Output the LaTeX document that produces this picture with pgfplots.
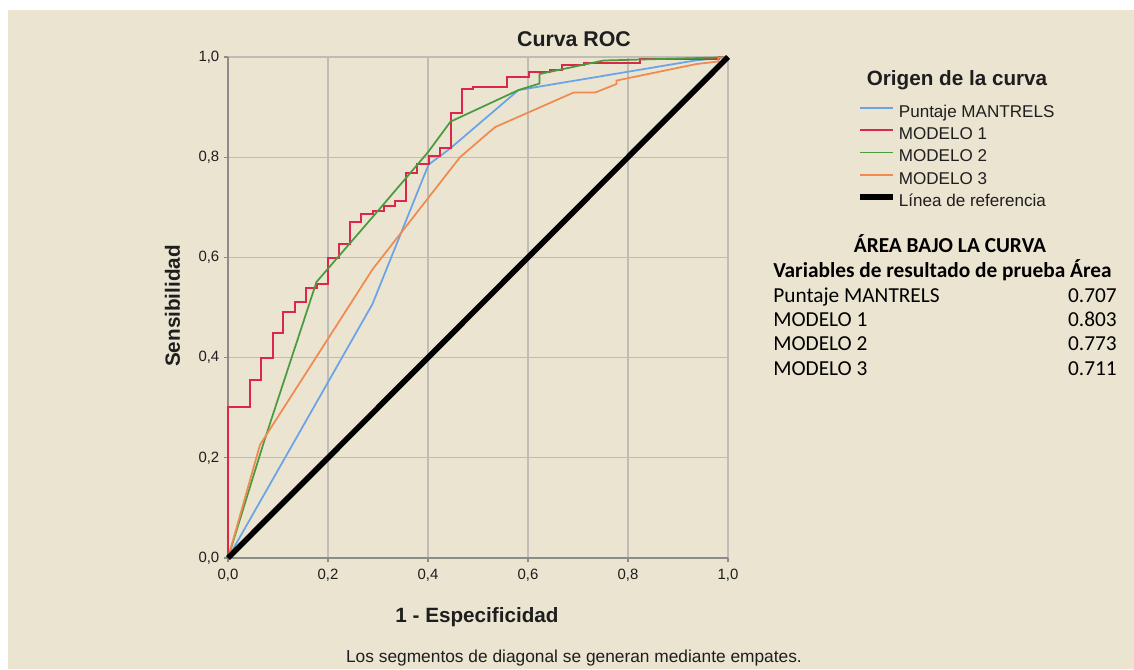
\documentclass[border=0pt]{standalone}
\usepackage{pgfplots}
\pgfplotsset{compat=1.18}
\usepackage{fontspec}
\setmainfont{Liberation Sans}
\newfontfamily\calibri{Carlito}

\definecolor{fondo}{RGB}{234,228,209}
\definecolor{rejilla}{RGB}{190,188,180}
\definecolor{eje}{RGB}{140,140,138}
\definecolor{texto}{RGB}{30,30,30}
\definecolor{azul}{RGB}{106,163,230}
\definecolor{rojo}{RGB}{220,40,72}
\definecolor{verde}{RGB}{74,154,62}
\definecolor{naranja}{RGB}{240,138,80}

\begin{document}
\begin{tikzpicture}[x=0.75pt,y=0.75pt]
\path[use as bounding box] (-228,-111) rectangle (906,558);
\fill[white] (-228,-111) rectangle (906,558);
\fill[fondo] (-220,-111) rectangle (906,548);

\begin{axis}[
  at={(0,0)}, anchor=south west,
  width=375pt, height=375.75pt, scale only axis,
  xmin=0, xmax=1, ymin=0, ymax=1,
  xtick={0,0.2,0.4,0.6,0.8,1}, ytick={0,0.2,0.4,0.6,0.8,1},
  axis x line*=bottom, axis y line*=left,
  axis line style={eje, line width=1pt},
  grid=major, grid style={rejilla, line width=1pt},
  tick align=outside, major tick length=3pt,
  tick style={eje, line width=0.8pt},
  /pgf/number format/.cd, fixed, fixed zerofill, precision=1, use comma,
  assume math mode=true, /pgfplots/.cd,
  tick label style={font=\fontsize{11.2}{13}\selectfont, text=texto},
  xticklabel style={yshift=-1.5pt},
  clip=false,
  legend style={at={(axis description cs:1.2587,0.9114)}, anchor=north west,
    draw=none, fill=none, inner sep=0pt, row sep=0pt,
    /tikz/every even column/.style={column sep=0pt},
    font=\fontsize{12.8}{15}\selectfont, text=texto,
    nodes={inner xsep=2pt, inner ysep=2.2pt, text height=9.5pt, text depth=2.8pt}},
  legend cell align=left,
  legend image code/.code={\draw[#1] (0pt,3.6pt) -- (24.75pt,3.6pt);},
]
% Puntaje MANTRELS
\addplot[azul, line width=1.3pt] coordinates {
  (0,0) (0.289,0.507) (0.401,0.785) (0.445,0.818) (0.581,0.934)
  (0.934,0.993) (1,1)};
\addlegendentry{Puntaje MANTRELS}
% MODELO 1
\addplot[rojo, line width=1.5pt] coordinates {
  (0,0) (0,0.302) (0.044,0.302) (0.044,0.355) (0.066,0.355) (0.066,0.399)
  (0.089,0.399) (0.089,0.450) (0.109,0.450) (0.109,0.491) (0.133,0.491)
  (0.133,0.510) (0.156,0.510) (0.156,0.538) (0.177,0.538) (0.177,0.547)
  (0.199,0.547) (0.199,0.599) (0.222,0.599) (0.222,0.626) (0.244,0.626)
  (0.244,0.671) (0.266,0.671) (0.266,0.687) (0.289,0.687) (0.289,0.693)
  (0.311,0.693) (0.311,0.703) (0.334,0.703) (0.334,0.713) (0.356,0.713)
  (0.356,0.768) (0.377,0.768) (0.377,0.786) (0.401,0.786) (0.401,0.803)
  (0.423,0.803) (0.423,0.818) (0.445,0.818) (0.445,0.889) (0.467,0.889)
  (0.467,0.937) (0.489,0.937) (0.489,0.941) (0.557,0.941) (0.557,0.960)
  (0.601,0.960) (0.601,0.970) (0.644,0.970) (0.644,0.975) (0.667,0.975)
  (0.667,0.985) (0.712,0.985) (0.712,0.988) (0.824,0.988) (0.824,0.996)
  (0.981,0.996) (0.981,1) (1,1)};
\addlegendentry{MODELO 1}
% MODELO 2
\addplot[verde, line width=1.3pt] coordinates {
  (0,0) (0.071,0.229) (0.177,0.551) (0.300,0.693) (0.400,0.810)
  (0.445,0.871) (0.581,0.934) (0.623,0.947) (0.623,0.966) (0.751,0.993)
  (0.980,0.999) (1,1)};
\addlegendentry{MODELO 2}
% MODELO 3
\addplot[naranja, line width=1.3pt] coordinates {
  (0,0) (0.064,0.226) (0.289,0.576) (0.464,0.800) (0.534,0.860)
  (0.691,0.929) (0.734,0.929) (0.777,0.946) (0.777,0.953) (0.937,0.986)
  (0.981,0.991) (0.981,0.999) (1,1)};
\addlegendentry{MODELO 3}
% Linea de referencia
\addplot[black, line width=4.2pt] coordinates {(0,0) (1,1)};
\addlegendentry{Línea de referencia}
\end{axis}

\node[anchor=base, inner sep=0pt, text=texto,
  font=\bfseries\fontsize{16}{19}\selectfont] at (346,511) {Curva ROC};
\node[anchor=base, inner sep=0pt, rotate=90, text=texto,
  font=\bfseries\fontsize{15.5}{18}\selectfont] at (-48,252) {Sensibilidad};
\node[anchor=base, inner sep=0pt, text=texto,
  font=\bfseries\fontsize{15.5}{18}\selectfont] at (249,-64) {1 - Especificidad};
\node[anchor=base, inner sep=0pt, text=texto,
  font=\fontsize{13}{15}\selectfont] at (346,-104)
  {Los segmentos de diagonal se generan mediante empates.};
\node[anchor=base, inner sep=0pt, text=texto,
  font=\bfseries\fontsize{15.5}{18}\selectfont] at (729,473) {Origen de la curva};

% Tabla de areas
\begin{scope}[every node/.style={inner sep=0pt, text=black,
    font=\calibri\fontsize{16}{18}\selectfont}]
\node[anchor=base, font=\calibri\bfseries\fontsize{16}{18}\selectfont]
  at (722,305.5) {ÁREA BAJO LA CURVA};
\node[anchor=base west, font=\calibri\bfseries\fontsize{16}{18}\selectfont]
  at (545,281) {Variables de resultado de prueba Área};
\node[anchor=base west] at (545,256) {Puntaje MANTRELS};
\node[anchor=base east] at (889,256) {0.707};
\node[anchor=base west] at (545,232) {MODELO 1};
\node[anchor=base east] at (889,232) {0.803};
\node[anchor=base west] at (545,207.5) {MODELO 2};
\node[anchor=base east] at (889,207.5) {0.773};
\node[anchor=base west] at (545,183) {MODELO 3};
\node[anchor=base east] at (889,183) {0.711};
\end{scope}
\end{tikzpicture}
\end{document}
